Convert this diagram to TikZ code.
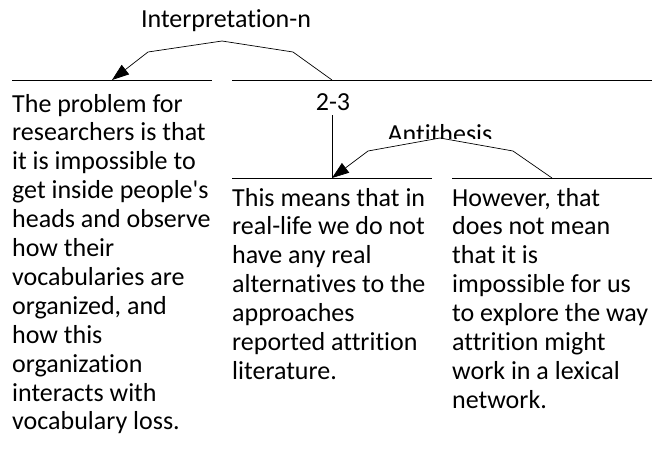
\documentclass[tikz,border=0pt]{standalone}
\usepackage{fontspec}
\setmainfont{Carlito}[Ligatures={NoCommon}]
\usepackage{tikz}
\usetikzlibrary{arrows.meta}

\newcommand{\segfont}{\fontsize{26}{28.9}\selectfont}

\tikzset{
  span/.style={black, line width=0.7pt},
  relarc/.style={black, line width=0.7pt},
  relarrow/.style={relarc, -{Triangle[length=17pt,width=12pt]}},
  % multi-line nodes: base anchor sits on the last line
  seg/.style={font=\segfont, align=left, inner sep=0pt, anchor=base west},
  lbl/.style={font=\segfont, inner sep=0pt, anchor=base}
}

\begin{document}
\begin{tikzpicture}[x=1pt,y=-1pt]
        \useasboundingbox (0,0) rectangle (657,448);

        % spans
        \draw[span] (12,80) -- (212,80);
        \draw[span] (232,80) -- (652,80);
        \draw[span] (232,178) -- (432,178);
        \draw[span] (452,178) -- (652,178);

        % top relation
        \node[lbl] (interp) at (226,27) {Interpretation-n};
        \coordinate (apexA) at (222,41);
        \coordinate (tipA) at (112,80);
        \coordinate (endA) at (332,80);
        \draw[relarrow] (apexA) -- (148,52) -- (tipA);
        \draw[relarc] (apexA) -- (293,52) -- (endA);

        % lower span
        \node[lbl] (span23) at (333,110) {2-3};
        \coordinate (vtop) at (332,115);
        \coordinate (tipB) at (332,178);
        \draw[span] (vtop) -- (tipB);

        % antithesis
        \begin{scope}
          \clip (380,110) rectangle (500,138);
          \node[lbl] (anti) at (440,142) {Antithesis};
        \end{scope}
        \coordinate (apexB) at (440,138);
        \coordinate (endB) at (552,178);
        \draw[relarrow] (apexB) -- (368,151) -- (tipB);
        \draw[relarc] (apexB) -- (513,151) -- (endB);

        % segments
        \node[seg] (seg1) at (12,429.9) {The problem for\\researchers is that\\it is impossible to\\get inside people\textquotesingle s\\heads and observe\\how their\\vocabularies are\\organized, and\\how this\\organization\\interacts with\\vocabulary loss.};
        \node[seg] (seg2) at (232,379.4) {This means that in\\real-life we do not\\have any real\\alternatives to the\\approaches\\reported attrition\\literature.};
        \node[seg] (seg3) at (452,408.3) {However, that\\does not mean\\that it is\\impossible for us\\to explore the way\\attrition might\\work in a lexical\\network.};
    \end{tikzpicture}
\end{document}
